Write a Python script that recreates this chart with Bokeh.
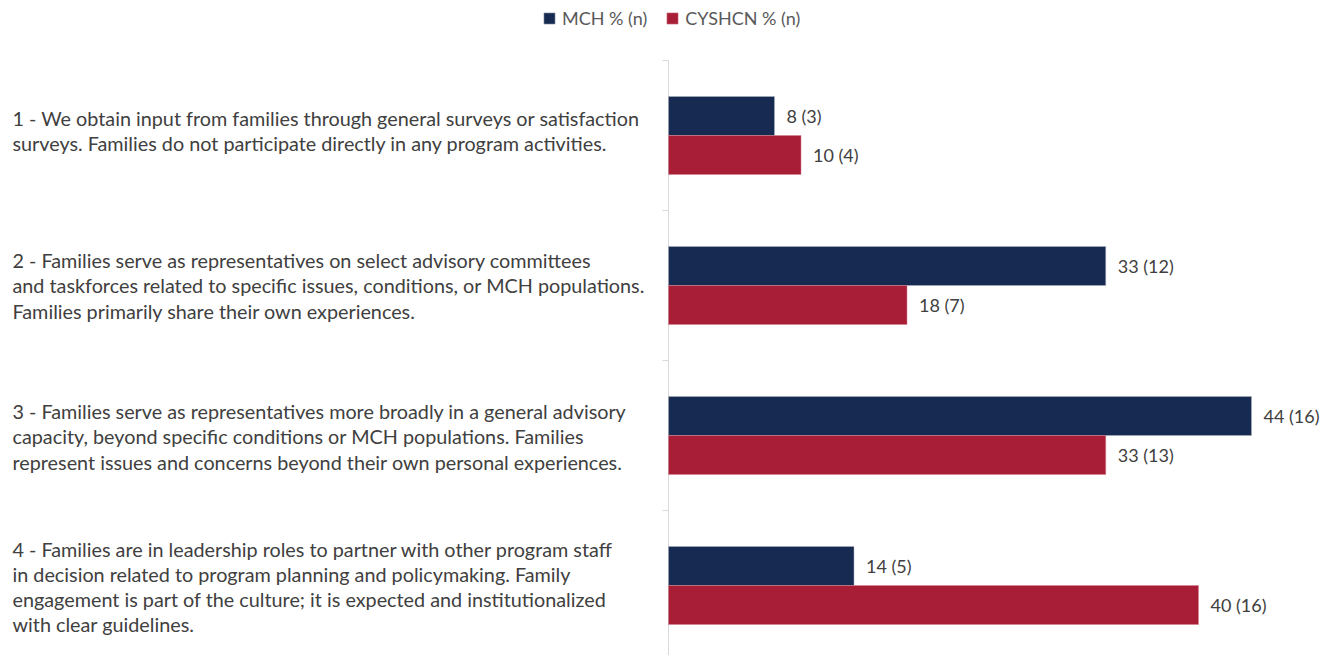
from bokeh.plotting import figure
from bokeh.models import Range1d, Legend, LegendItem, ColumnDataSource
from bokeh.embed import file_html
from bokeh.resources import INLINE
from bokeh.core.properties import value

categories = [
    "1 - We obtain input from families through general surveys or satisfaction\nsurveys. Families do not participate directly in any program activities.",
    "2 - Families serve as representatives on select advisory committees\nand taskforces related to specific issues, conditions, or MCH populations.\nFamilies primarily share their own experiences.",
    "3 - Families serve as representatives more broadly in a general advisory\ncapacity, beyond specific conditions or MCH populations. Families\nrepresent issues and concerns beyond their own personal experiences.",
    "4 - Families are in leadership roles to partner with other program staff\nin decision related to program planning and policymaking. Family\nengagement is part of the culture; it is expected and institutionalized\nwith clear guidelines.",
]
mch_pct = [8, 33, 44, 14]
mch_n = [3, 12, 16, 5]
cyshcn_pct = [10, 18, 33, 40]
cyshcn_n = [4, 7, 13, 16]
series_names = ["MCH % (n)", "CYSHCN % (n)"]

BLUE = "#172a52"
RED = "#a81e37"
FONT = "Lato"
TXT = "#404040"

W, H = 1325, 655
X0_PX = 668          # pixel position of value 0
PX_PER_UNIT = 13.25  # pixels per percentage point
TOP_PX = 60          # pixel of first category boundary
BAND_PX = 150        # pixels per category

x_start = -X0_PX / PX_PER_UNIT
x_end = (W - X0_PX) / PX_PER_UNIT
y_top = -0.5 - TOP_PX / BAND_PX
y_bot = -0.5 + (H - TOP_PX) / BAND_PX

ncat = len(categories)
pos = list(range(ncat))
off = 0.13
bh = 0.26

p = figure(width=W, height=H, output_backend="svg", toolbar_location=None,
           x_range=Range1d(x_start, x_end), y_range=Range1d(y_bot, y_top),
           min_border=0, outline_line_color=None, x_axis_type=None, y_axis_type=None)
p.background_fill_color = "white"
p.border_fill_color = "white"
p.grid.visible = False

# axis line and boundary ticks
AX = "#d9d9d9"
p.segment(x0=[0], y0=[-0.5], x1=[0], y1=[ncat - 0.5], line_color=AX, line_width=1)
bounds = [i - 0.5 for i in range(ncat + 1)]
tick_len = 6 / PX_PER_UNIT
p.segment(x0=[-tick_len] * len(bounds), y0=bounds, x1=[0] * len(bounds), y1=bounds,
          line_color=AX, line_width=1)

src_m = ColumnDataSource(dict(y=[i - off for i in pos], x=mch_pct,
                              lab=[f"{a} ({b})" for a, b in zip(mch_pct, mch_n)]))
src_c = ColumnDataSource(dict(y=[i + off for i in pos], x=cyshcn_pct,
                              lab=[f"{a} ({b})" for a, b in zip(cyshcn_pct, cyshcn_n)]))

r1 = p.hbar(y="y", right="x", left=0, height=bh, source=src_m, fill_color=BLUE,
            line_color="#b0b4c0", line_width=0.5)
r2 = p.hbar(y="y", right="x", left=0, height=bh, source=src_c, fill_color=RED,
            line_color="#d08090", line_width=0.5)

for s in (src_m, src_c):
    p.text(x="x", y="y", text="lab", source=s, x_offset=12, text_baseline="middle",
           text_align="left", text_font=value(FONT), text_font_size="18px", text_color=TXT)

lab_x = (12 - X0_PX) / PX_PER_UNIT
lab_dy = [-5, 0, 1, 1]  # small per-label vertical nudges in pixels
p.text(x=[lab_x] * ncat, y=pos, text=categories, y_offset=lab_dy,
       text_baseline="middle", text_align="left",
       text_font=value(FONT), text_font_size="19.8px", text_color=TXT, text_line_height=1.045)

legend = Legend(items=[LegendItem(label=series_names[0], renderers=[r1]),
                       LegendItem(label=series_names[1], renderers=[r2])],
                orientation="horizontal", location=(542, H - 29),
                label_text_font=FONT, label_text_font_size="18px", label_text_color="#595959",
                glyph_width=14, glyph_height=14, label_height=20, spacing=18, label_standoff=6,
                padding=0, margin=0, border_line_color=None, background_fill_alpha=0)
p.add_layout(legend)

open("out.html", "w").write(file_html(p, INLINE))
